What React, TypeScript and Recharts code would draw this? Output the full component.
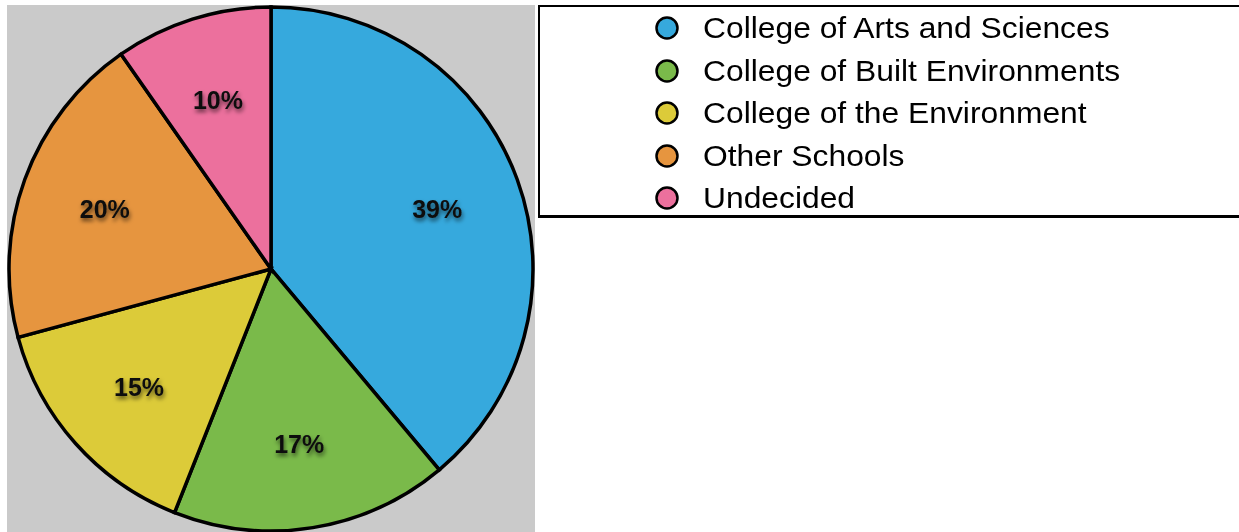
import { PieChart, Pie, Cell, Legend } from "recharts";

const CATEGORIES = [
  "College of Arts and Sciences",
  "College of Built Environments",
  "College of the Environment",
  "Other Schools",
  "Undecided",
];
const SHARES = [38.9, 17.1, 14.8, 19.5, 9.7];
const COLORS = ["#36a9dd", "#7aba4a", "#dccb39", "#e6953f", "#ec709d"];

const data = CATEGORIES.map((name, i) => ({ name, value: SHARES[i] }));

const RADIAN = Math.PI / 180;

function renderLabel(props: any) {
  const { cx, cy, midAngle, outerRadius, value } = props;
  const r = outerRadius * 0.675;
  const x = cx + r * Math.cos(-midAngle * RADIAN);
  const y = cy + r * Math.sin(-midAngle * RADIAN);
  return (
    <text
      x={x}
      y={y}
      textAnchor="middle"
      dominantBaseline="central"
      fill="#111"
      fontFamily="'Liberation Sans', Arial, sans-serif"
      fontWeight="bold"
      fontSize={25}
      filter="url(#labelShadow)"
    >
      {Math.round(value)}%
    </text>
  );
}

function LegendBox() {
  return (
    <div
      style={{
        position: "absolute",
        left: 538,
        top: 5,
        width: 710,
        height: 213,
        border: "2px solid #000",
        borderBottomWidth: 3,
        background: "#fff",
        boxSizing: "border-box",
        fontFamily: "'Liberation Sans', Arial, sans-serif",
      }}
    >
      {CATEGORIES.map((name, i) => (
        <div
          key={name}
          style={{
            position: "absolute",
            left: 114,
            top: 3 + i * 42.5,
            height: 36,
            display: "flex",
            alignItems: "center",
            whiteSpace: "nowrap",
          }}
        >
          <svg width={26} height={26} style={{ marginRight: 23 }}>
            <circle cx={13} cy={13} r={10.5} fill={COLORS[i]} stroke="#000" strokeWidth={2.5} />
          </svg>
          <span
            style={{
              fontSize: 30,
              color: "#000",
              display: "inline-block",
              transform: "scaleX(1.06)",
              transformOrigin: "left center",
            }}
          >
            {name}
          </span>
        </div>
      ))}
    </div>
  );
}

export default function App() {
  return (
    <div
      style={{
        position: "fixed",
        left: 0,
        top: 0,
        width: 1239,
        height: 532,
        background: "#fff",
        overflow: "hidden",
      }}
    >
      <div
        style={{
          position: "absolute",
          left: 7,
          top: 5,
          width: 528,
          height: 527,
          background: "#cacaca",
        }}
      />
      <div style={{ position: "absolute", left: 0, top: 0 }}>
        <PieChart width={540} height={532} margin={{ top: 0, right: 0, bottom: 0, left: 0 }}>
          <defs>
            <filter id="labelShadow" x="-30%" y="-30%" width="160%" height="180%">
              <feDropShadow dx={1} dy={3} stdDeviation={2} floodColor="#000" floodOpacity={0.6} />
            </filter>
          </defs>
          <Pie
            data={data}
            dataKey="value"
            nameKey="name"
            cx={271}
            cy={269}
            outerRadius={262}
            startAngle={90}
            endAngle={-270}
            stroke="#000"
            strokeWidth={3.5}
            label={renderLabel}
            labelLine={false}
            isAnimationActive={false}
          >
            {data.map((_, index) => (
              <Cell key={`cell-${index}`} fill={COLORS[index % COLORS.length]} />
            ))}
          </Pie>
          <Legend content={() => null} />
        </PieChart>
      </div>
      <LegendBox />
    </div>
  );
}
